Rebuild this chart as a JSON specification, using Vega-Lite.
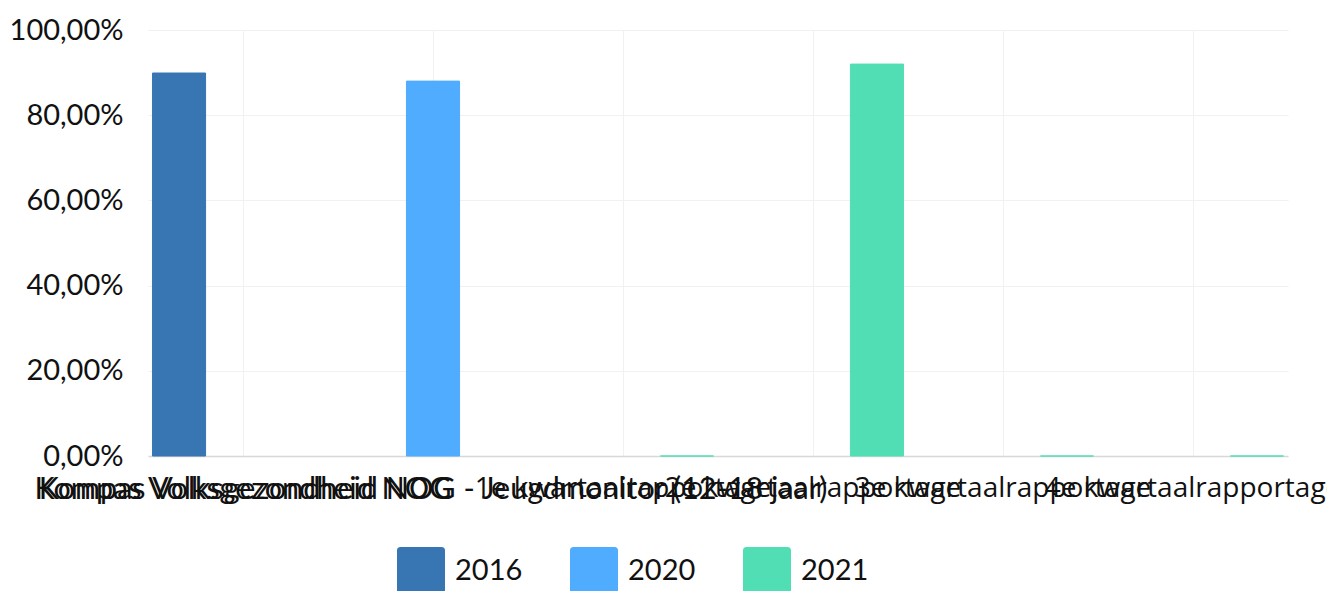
{
  "$schema": "https://vega.github.io/schema/vega-lite/v6.json",
  "width": 1140,
  "height": 426,
  "autosize": {"type": "none"},
  "padding": {"left": 148, "top": 30, "right": 39, "bottom": 135},
  "background": "white",
  "config": {
    "locale": {"number": {"decimal": ",", "thousands": ".", "grouping": [3], "currency": ["€", ""]}},
    "font": "Lato",
    "view": {"stroke": null}
  },
  "data": {
    "values": [
      {"categorie": "Kompas Volksgezondheid NOG", "jaar": "2016", "waarde": 0.899},
      {"categorie": "Kompas Volksgezondheid NOG - Jeugdmonitor (12-18 jaar)", "jaar": "2020", "waarde": 0.88},
      {"categorie": "1e kwartaalrapportage", "jaar": "2021", "waarde": 0},
      {"categorie": "2e kwartaalrapportage", "jaar": "2021", "waarde": 0.92},
      {"categorie": "3e kwartaalrapportage", "jaar": "2021", "waarde": 0},
      {"categorie": "4e kwartaalrapportage", "jaar": "2021", "waarde": 0}
    ]
  },
  "mark": {"type": "bar", "strokeWidth": 1},
  "encoding": {
    "x": {
      "field": "categorie",
      "type": "nominal",
      "sort": null,
      "scale": {"paddingInner": 0, "paddingOuter": 0},
      "axis": {
        "title": null,
        "labelAngle": 0,
        "labelOverlap": false,
        "labelLimit": 0,
        "labelFont": {"condition": {"test": "indexof(datum.value, 'Kompas') === 0", "value": "Lato"}, "value": "Open Sans"},
        "labelFontSize": {"condition": {"test": "indexof(datum.value, 'Kompas') === 0", "value": 30.5}, "value": 28},
        "labelColor": "#111111",
        "labelPadding": 18,
        "ticks": false,
        "grid": true,
        "gridColor": "#f1f1f1",
        "domainColor": "#d8d8d8",
        "domainWidth": 1.5
      }
    },
    "xOffset": {
      "field": "jaar",
      "type": "nominal",
      "scale": {"domain": ["2016", "2020", "2021"], "paddingInner": 0.17, "paddingOuter": 0.07}
    },
    "y": {
      "field": "waarde",
      "type": "quantitative",
      "scale": {"domain": [0, 1], "nice": false},
      "axis": {
        "title": null,
        "format": ".2%",
        "values": [0, 0.2, 0.4, 0.6, 0.8, 1],
        "domain": false,
        "ticks": false,
        "labelFont": "Lato",
        "labelFontSize": 29,
        "labelColor": "#111111",
        "labelPadding": 25,
        "gridColor": "#f1f1f1"
      }
    },
    "color": {
      "field": "jaar",
      "type": "nominal",
      "scale": {"domain": ["2016", "2020", "2021"], "range": ["#3775b3", "#4facfe", "#52deb4"]},
      "legend": {
        "title": null,
        "orient": "none",
        "direction": "horizontal",
        "legendX": 249,
        "legendY": 517,
        "padding": 0,
        "symbolType": "M -0.85 -1 H 0.85 Q 1 -1 1 -0.85 V 0.85 Q 1 1 0.85 1 H -0.85 Q -1 1 -1 0.85 V -0.85 Q -1 -1 -0.85 -1 Z",
        "symbolSize": 2304,
        "symbolStrokeWidth": 0,
        "symbolOpacity": 1,
        "labelFont": "Lato",
        "labelFontSize": 29,
        "labelColor": "#111111",
        "labelOffset": 10,
        "columnPadding": 47
      }
    },
    "stroke": {
      "field": "jaar",
      "type": "nominal",
      "scale": {"domain": ["2016", "2020", "2021"], "range": ["#3775b3", "#4facfe", "#52deb4"]},
      "legend": null
    }
  }
}
